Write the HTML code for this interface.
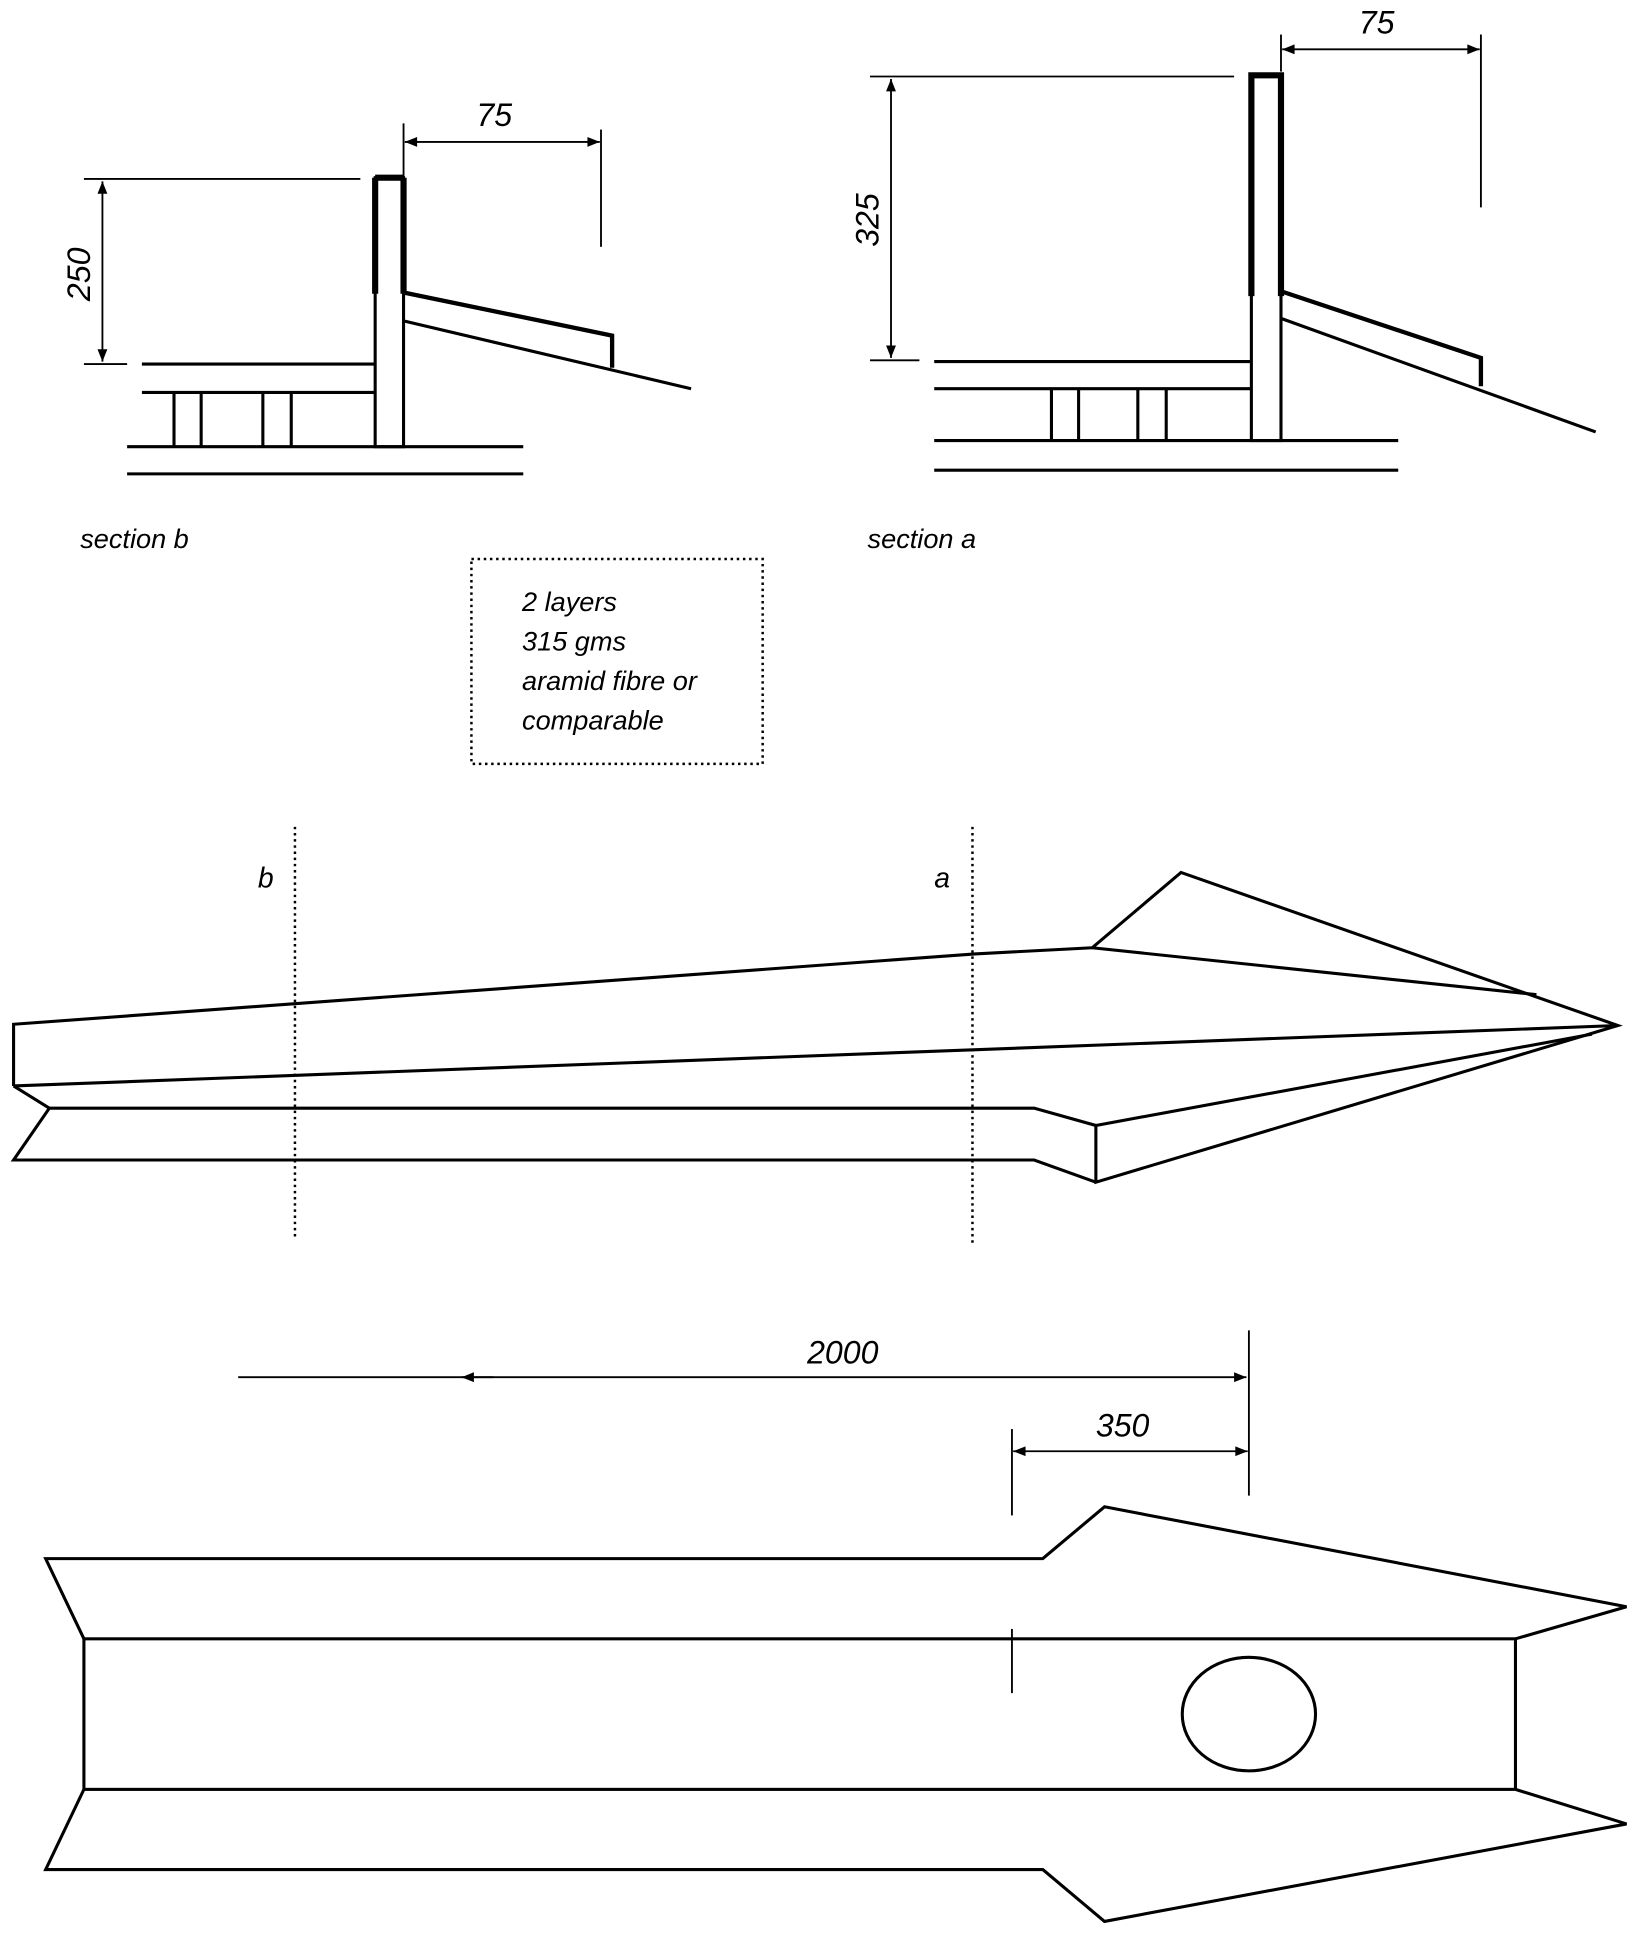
<!DOCTYPE html>
<html><head><meta charset="utf-8"><style>
html,body{margin:0;padding:0;background:#fff;}
svg{display:block;}
text{font-family:"Liberation Sans",sans-serif;font-style:italic;fill:#000;}
</style></head><body>
<svg width="1629" height="1935" viewBox="0 0 1320 1568" preserveAspectRatio="none" xmlns="http://www.w3.org/2000/svg">
<defs>
<marker id="ah" viewBox="0 0 10 10" refX="10" refY="5" markerWidth="24" markerHeight="10" markerUnits="userSpaceOnUse" orient="auto-start-reverse"><path d="M0,1 L10,5 L0,9 z" fill="#000"/></marker>
</defs>
<g fill="none" stroke="#000" stroke-width="2.5">
<rect x="304" y="144" width="23" height="218"/>
<line x1="304" y1="144" x2="327" y2="144" stroke-width="5"/>
<line x1="304" y1="144" x2="304" y2="238" stroke-width="5"/>
<line x1="327" y1="144" x2="327" y2="238" stroke-width="5"/>
<line x1="115" y1="295" x2="304" y2="295"/>
<line x1="115" y1="318" x2="304" y2="318"/>
<line x1="141" y1="318" x2="141" y2="362"/><line x1="163" y1="318" x2="163" y2="362"/>
<line x1="213" y1="318" x2="213" y2="362"/><line x1="236" y1="318" x2="236" y2="362"/>
<line x1="103" y1="362" x2="424" y2="362"/>
<line x1="103" y1="384" x2="424" y2="384"/>
<polyline points="327,237 496,272 496,298" stroke-width="3.5"/>
<line x1="327" y1="260" x2="560" y2="315"/>
<line x1="68" y1="145" x2="292" y2="145" stroke-width="1.5"/>
<line x1="68" y1="295" x2="103" y2="295" stroke-width="1.5"/>
<line x1="83" y1="147" x2="83" y2="293" stroke-width="1.5" marker-start="url(#ah)" marker-end="url(#ah)"/>
<line x1="487" y1="105" x2="487" y2="200" stroke-width="1.5"/>
<line x1="327" y1="100" x2="327" y2="143" stroke-width="1.5"/>
<line x1="328" y1="115" x2="486" y2="115" stroke-width="1.5" marker-start="url(#ah)" marker-end="url(#ah)"/>
<rect x="1014" y="61" width="24" height="296"/>
<polyline points="1014,240 1014,61 1038,61 1038,240" stroke-width="5"/>
<line x1="757" y1="293" x2="1014" y2="293"/>
<line x1="757" y1="315" x2="1014" y2="315"/>
<line x1="852" y1="315" x2="852" y2="357"/><line x1="874" y1="315" x2="874" y2="357"/>
<line x1="922" y1="315" x2="922" y2="357"/><line x1="945" y1="315" x2="945" y2="357"/>
<line x1="757" y1="357" x2="1133" y2="357"/>
<line x1="757" y1="381" x2="1133" y2="381"/>
<polyline points="1038,236 1200,290 1200,313" stroke-width="3.5"/>
<line x1="1038" y1="258" x2="1293" y2="350"/>
<line x1="705" y1="62" x2="1000" y2="62" stroke-width="1.5"/>
<line x1="705" y1="292" x2="745" y2="292" stroke-width="1.5"/>
<line x1="722" y1="64" x2="722" y2="290" stroke-width="1.5" marker-start="url(#ah)" marker-end="url(#ah)"/>
<line x1="1200" y1="28" x2="1200" y2="168" stroke-width="1.5"/>
<line x1="1038" y1="28" x2="1038" y2="58" stroke-width="1.5"/>
<line x1="1039" y1="40" x2="1199" y2="40" stroke-width="1.5" marker-start="url(#ah)" marker-end="url(#ah)"/>
<rect x="382" y="453" width="236" height="166" stroke-width="2" stroke-dasharray="2,3"/>
<polyline points="11,880 11,830 790,773 885,768 957,707 1311,831 888,958 888,912 838,898 40,898 11,940 838,940 888,958"/>
<line x1="11" y1="880" x2="40" y2="898"/>
<line x1="11" y1="880" x2="1311" y2="831"/>
<line x1="885" y1="768" x2="1245" y2="806"/>
<line x1="888" y1="912" x2="1290" y2="838"/>
<line x1="239" y1="670" x2="239" y2="1003" stroke-width="2" stroke-dasharray="2,3"/>
<line x1="788" y1="670" x2="788" y2="1010" stroke-width="2" stroke-dasharray="2,3"/>
<line x1="193" y1="1116" x2="1010" y2="1116" stroke-width="1.5" marker-end="url(#ah)"/>
<line x1="400" y1="1116" x2="374" y2="1116" stroke-width="1.5" marker-end="url(#ah)"/>
<line x1="821" y1="1176" x2="1011" y2="1176" stroke-width="1.5" marker-start="url(#ah)" marker-end="url(#ah)"/>
<line x1="1012" y1="1078" x2="1012" y2="1212" stroke-width="1.5"/>
<line x1="820" y1="1158" x2="820" y2="1228" stroke-width="1.5"/>
<line x1="820" y1="1320" x2="820" y2="1372" stroke-width="1.5"/>
<polyline points="68,1328 37,1263 845,1263 895,1221 1318,1302 1228,1328"/>
<rect x="68" y="1328" width="1160" height="122"/>
<polyline points="68,1450 37,1515 845,1515 895,1557 1318,1478 1228,1450"/>
<ellipse cx="1012" cy="1389" rx="54" ry="46"/>
</g>
<g font-size="26">
<text x="386" y="102">75</text>
<text x="1101" y="27">75</text>
<text x="0" y="0" transform="translate(73,244) rotate(-90)">250</text>
<text x="0" y="0" transform="translate(712,200) rotate(-90)">325</text>
<text x="65" y="444" font-size="22">section b</text>
<text x="703" y="444" font-size="22">section a</text>
<text x="423" y="495" font-size="22">2 layers</text>
<text x="423" y="527" font-size="22">315 gms</text>
<text x="423" y="559" font-size="22">aramid fibre or</text>
<text x="423" y="591" font-size="22">comparable</text>
<text x="209" y="719" font-size="23">b</text>
<text x="757" y="719" font-size="23">a</text>
<text x="654" y="1105">2000</text>
<text x="888" y="1164">350</text>
</g>
</svg>
</body></html>
